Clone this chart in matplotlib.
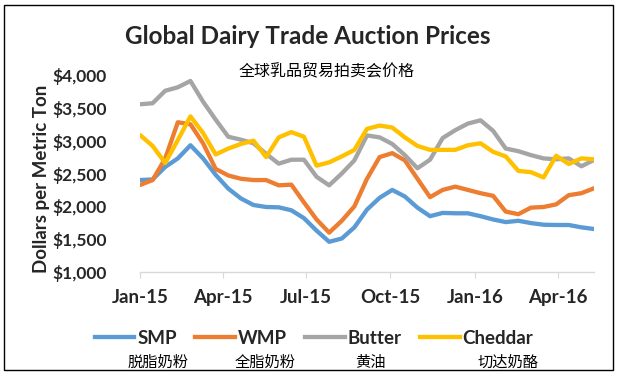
import matplotlib
matplotlib.use("Agg")
import matplotlib.pyplot as plt
import matplotlib.dates as mdates
from matplotlib.ticker import FuncFormatter, MultipleLocator
from matplotlib.lines import Line2D
from matplotlib.patches import Rectangle
import pandas as pd

# ---- data ----
dates = pd.date_range("2015-01-01", "2016-05-10", periods=37)

smp = [2400, 2410, 2600, 2730, 2930, 2730, 2480, 2270, 2120, 2020,
       1990, 1985, 1940, 1820, 1630, 1460, 1510, 1680, 1950, 2130,
       2250, 2150, 1980, 1850, 1900, 1894, 1894, 1850, 1800, 1760,
       1780, 1745, 1720, 1716, 1716, 1680, 1655]
wmp = [2325, 2400, 2730, 3280, 3250, 2960, 2570, 2470, 2420, 2400,
       2400, 2320, 2330, 2060, 1800, 1600, 1780, 2000, 2420, 2750,
       2810, 2700, 2420, 2140, 2250, 2300, 2250, 2200, 2160, 1920,
       1880, 1980, 1990, 2030, 2170, 2200, 2275]
butter = [3554, 3570, 3760, 3813, 3909, 3594, 3320, 3060, 3015, 2960,
          2800, 2650, 2710, 2710, 2450, 2320, 2500, 2700, 3080, 3050,
          2950, 2780, 2580, 2710, 3040, 3160, 3260, 3310, 3150, 2880,
          2840, 2780, 2730, 2716, 2730, 2610, 2706]
cheddar = [3086, 2920, 2660, 3010, 3370, 3117, 2790, 2880, 2950, 3000,
           2750, 3050, 3130, 3060, 2620, 2670, 2760, 2860, 3180, 3230,
           3200, 3050, 2920, 2860, 2860, 2860, 2930, 2960, 2830, 2760,
           2540, 2520, 2440, 2770, 2645, 2730, 2716]

series_names = ["SMP", "WMP", "Butter", "Cheddar"]
series_cn = ["脱脂奶粉", "全脂奶粉", "黄油", "切达奶酪"]
colors = ["#5B9BD5", "#ED7D31", "#A5A5A5", "#FFC000"]
tick_dates = pd.to_datetime(["2015-01-01", "2015-04-01", "2015-07-01",
                             "2015-10-01", "2016-01-01", "2016-04-01"])

LATIN = ["Lato", "DejaVu Sans"]
CJK = ["Noto Sans CJK SC", "DejaVu Sans"]

W, H = 618, 376
fig = plt.figure(figsize=(W / 100, H / 100), dpi=100)
fig.patch.set_facecolor("white")

ax = fig.add_axes([140 / W, 1 - 272 / H, (594 - 140) / W, (272 - 75) / H])

for vals, c in zip([smp, wmp, butter, cheddar], colors):
    ax.plot(dates, vals, color=c, lw=3.1, solid_joinstyle="round", solid_capstyle="round")

ax.set_xlim(dates[0], dates[-1])
ax.set_ylim(1000, 4000)
ax.yaxis.set_major_locator(MultipleLocator(500))
ax.yaxis.set_major_formatter(FuncFormatter(lambda v, p: f"${v:,.0f}"))
ax.set_xticks(tick_dates)
ax.xaxis.set_major_formatter(mdates.DateFormatter("%b-%y"))

for s in ["top", "right", "left"]:
    ax.spines[s].set_visible(False)
ax.spines["bottom"].set_color("#D9D9D9")
ax.spines["bottom"].set_linewidth(1.0)
ax.tick_params(axis="y", length=0, pad=24)
ax.tick_params(axis="x", length=4, color="#D9D9D9", direction="out", pad=8)
for lab in ax.get_yticklabels():
    lab.set_fontfamily(LATIN)
    lab.set_fontweight("bold")
    lab.set_fontsize(12.5)
    lab.set_color("#262626")
for lab in ax.get_xticklabels():
    lab.set_fontfamily(LATIN)
    lab.set_fontweight("bold")
    lab.set_fontsize(13.5)
    lab.set_color("#262626")

fig.text(42 / W, 1 - 179 / H, "Dollars per Metric Ton", rotation=90,
         ha="center", va="center", family=LATIN, fontweight="bold",
         fontsize=13.5, color="#262626")

fig.text(308 / W, 1 - 36 / H, "Global Dairy Trade Auction Prices",
         ha="center", va="center", family=LATIN, fontweight="bold",
         fontsize=17.5, color="#262626")
fig.text(327 / W, 1 - 72 / H, "全球乳品贸易拍卖会价格",
         ha="center", va="center", family=CJK, fontsize=11.5, color="black")

handles = [Line2D([0], [0], color=c, lw=3.1) for c in colors]
leg = fig.legend(handles, series_names, loc="center", ncol=4,
                 bbox_to_anchor=(314 / W, 1 - 338 / H), frameon=False,
                 handlelength=2.1, handletextpad=0.15, columnspacing=1.0,
                 prop={"family": LATIN, "weight": "bold", "size": 13.5})
for t in leg.get_texts():
    t.set_color("#262626")

cn_x = [158, 265, 370, 508]
for x, t in zip(cn_x, series_cn):
    fig.text(x / W, 1 - 362 / H, t, ha="center", va="center",
             family=CJK, fontsize=11, color="black")

fig.patches.append(Rectangle((4 / W, 1 - 370 / H), (613 - 4) / W, (370 - 5) / H,
                             transform=fig.transFigure, fill=False,
                             edgecolor="black", lw=1.0))

fig.savefig("out.png", dpi=100)
